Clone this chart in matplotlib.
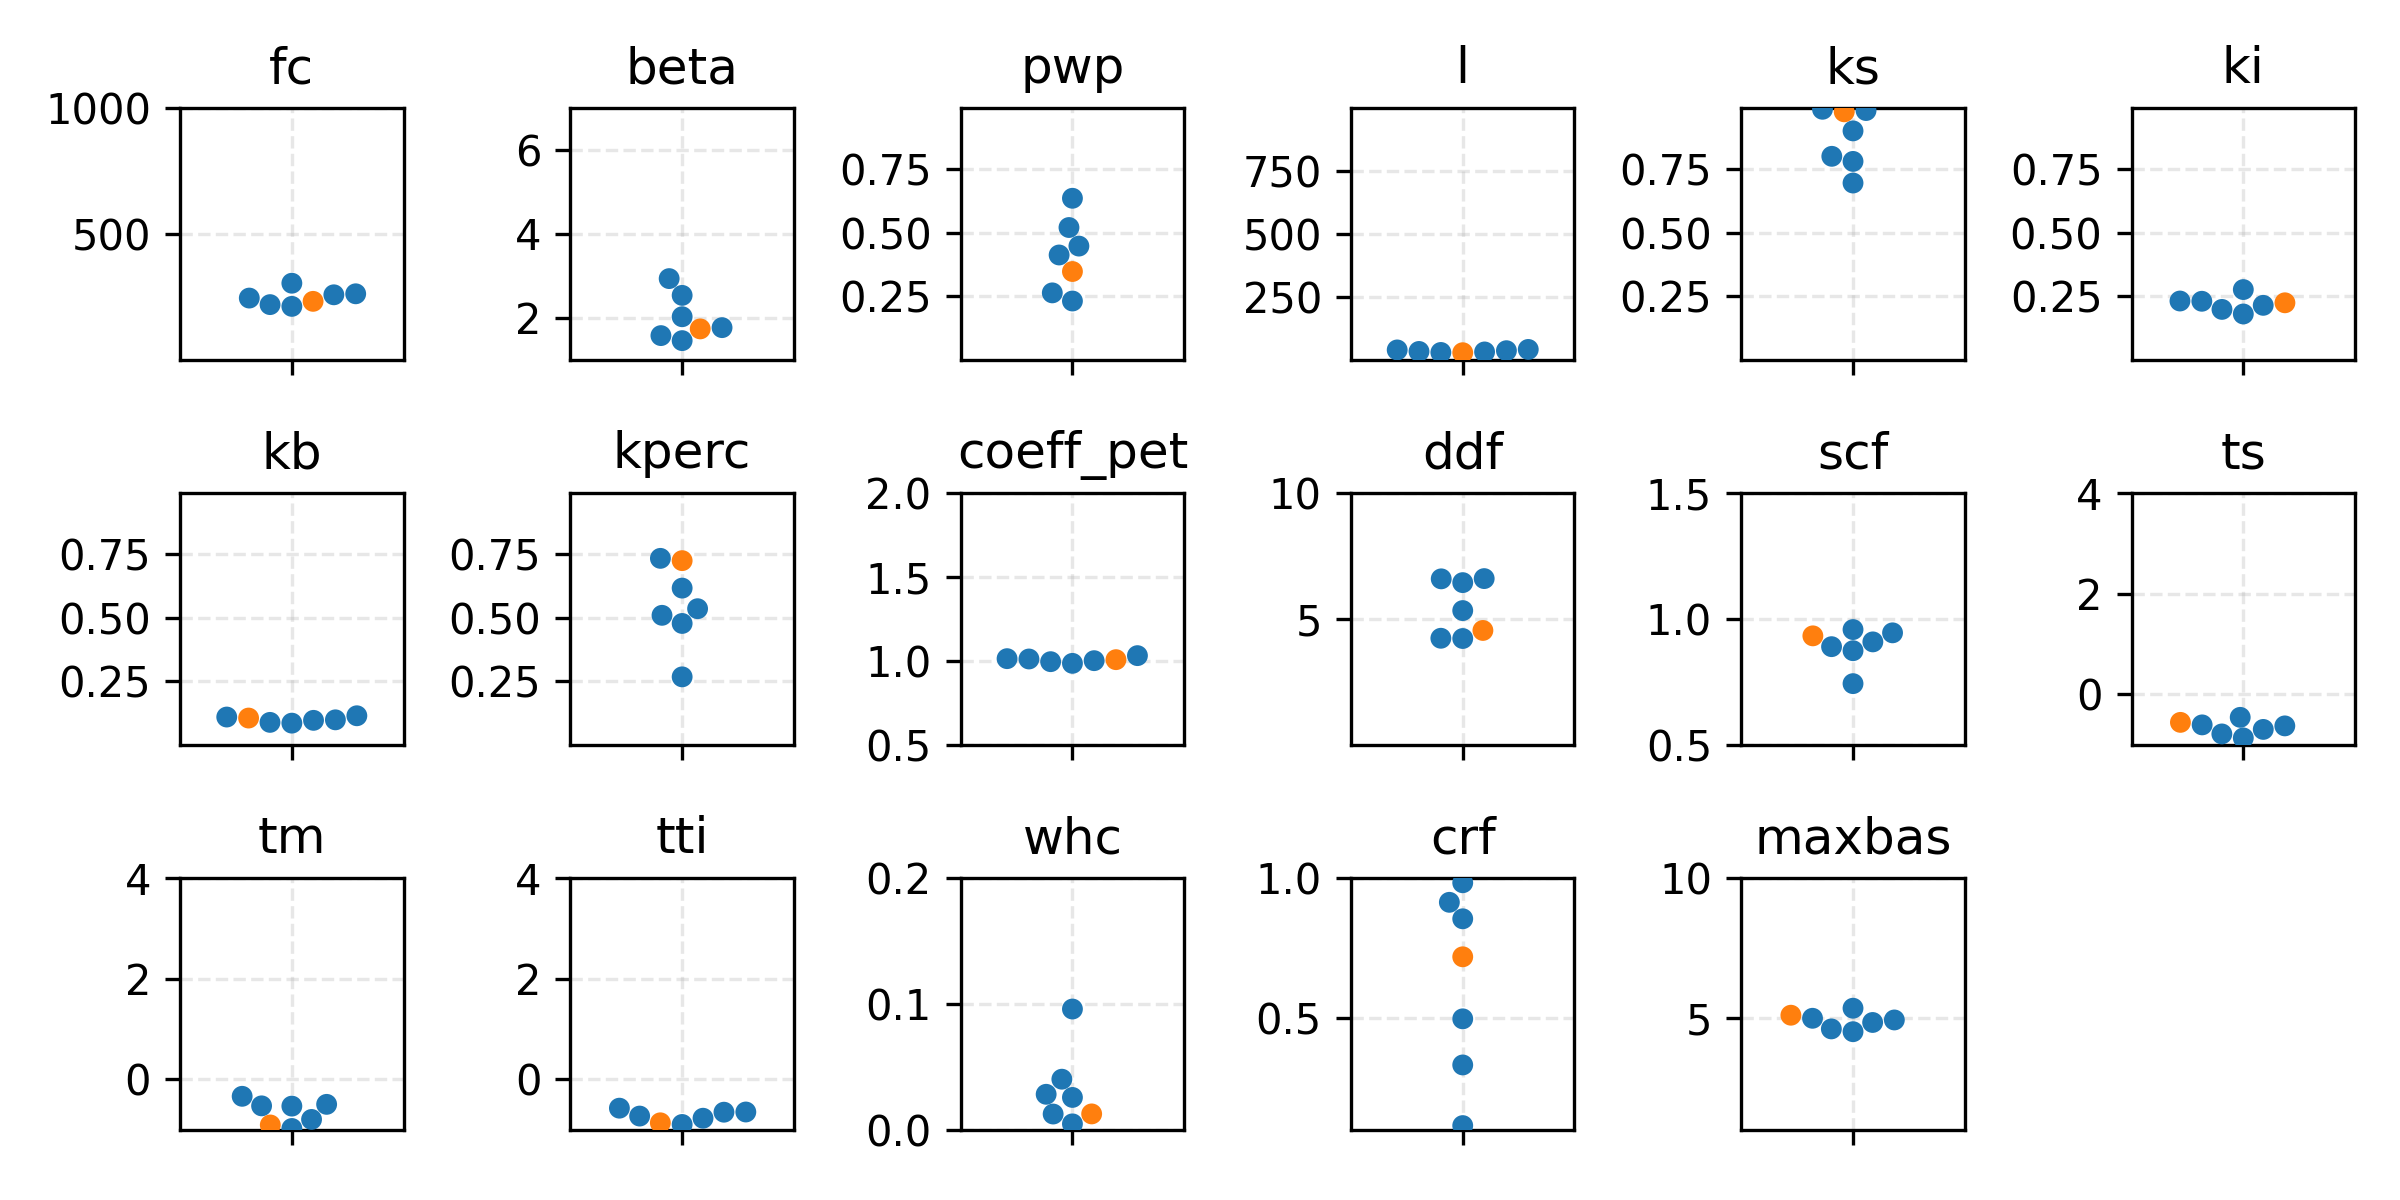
import numpy as np
import pandas as pd
import matplotlib
matplotlib.use("Agg")
import matplotlib.pyplot as plt
import seaborn as sns

# parameter names, value ranges and the 7 calibrated sets (last one = best run)
params = ["fc", "beta", "pwp", "l", "ks", "ki",
          "kb", "kperc", "coeff_pet", "ddf", "scf", "ts",
          "tm", "tti", "whc", "crf", "maxbas"]

bounds = {
    "fc": (1, 1000), "beta": (1, 7), "pwp": (0.001, 0.99), "l": (1, 1000),
    "ks": (0.001, 0.99), "ki": (0.001, 0.99), "kb": (0.001, 0.99),
    "kperc": (0.001, 0.99), "coeff_pet": (0.5, 2.0), "ddf": (0.01, 10),
    "scf": (0.5, 1.5), "ts": (-1, 4), "tm": (-1, 4), "tti": (-1, 4),
    "whc": (0.0, 0.2), "crf": (0.1, 1.0), "maxbas": (1, 10),
}

# explicit ticks where the reference does not follow the default locator
yticks = {"l": [250, 500, 750]}

values = {
    "fc": [245, 219, 212, 304, 258, 262, 232],
    "beta": [2.93, 2.53, 2.02, 1.57, 1.45, 1.76, 1.73],
    "pwp": [0.635, 0.52, 0.447, 0.412, 0.263, 0.231, 0.347],
    "l": [29, 31, 33, 36, 39, 41, 28],
    "ks": [0.985, 0.98, 0.90, 0.80, 0.78, 0.695, 0.975],
    "ki": [0.23, 0.231, 0.198, 0.276, 0.18, 0.214, 0.224],
    "kb": [0.109, 0.088, 0.085, 0.096, 0.098, 0.114, 0.105],
    "kperc": [0.733, 0.616, 0.535, 0.509, 0.477, 0.267, 0.724],
    "coeff_pet": [0.994, 1.000, 1.010, 1.012, 1.03, 0.984, 1.006],
    "ddf": [6.59, 6.44, 6.6, 5.33, 4.22, 4.23, 4.54],
    "scf": [0.889, 0.957, 0.873, 0.908, 0.944, 0.742, 0.932],
    "ts": [-0.61, -0.79, -0.46, -0.87, -0.70, -0.63, -0.56],
    "tm": [-0.34, -0.53, -0.535, -0.50, -0.80, -0.98, -0.91],
    "tti": [-0.90, -0.776, -0.733, -0.656, -0.652, -0.576, -0.867],
    "whc": [0.0958, 0.040, 0.028, 0.0255, 0.0123, 0.0045, 0.0124],
    "crf": [0.983, 0.913, 0.854, 0.496, 0.331, 0.114, 0.718],
    "maxbas": [4.98, 4.6, 5.34, 4.5, 4.83, 4.92, 5.09],
}
is_best = [False, False, False, False, False, False, True]

fig, axes = plt.subplots(3, 6, figsize=(8, 4), dpi=300)
axes = axes.flatten()

for i, p in enumerate(params):
    ax = axes[i]
    df = pd.DataFrame({"value": values[p], "best": is_best})
    sns.swarmplot(data=df, y="value", hue="best", ax=ax,
                  palette={False: "tab:blue", True: "tab:orange"},
                  size=5, legend=False)
    ax.set_ylim(*bounds[p])
    if p in yticks:
        ax.set_yticks(yticks[p])
    ax.set_xlim(-0.5, 0.5)
    ax.set_xticks([0])
    ax.set_xticklabels([""])
    ax.set_xlabel("")
    ax.set_ylabel("")
    ax.set_title(p)
    ax.set_axisbelow(True)
    ax.grid(True, linestyle="--", alpha=0.3)

axes[-1].axis("off")

plt.tight_layout()
plt.savefig("out.png")
